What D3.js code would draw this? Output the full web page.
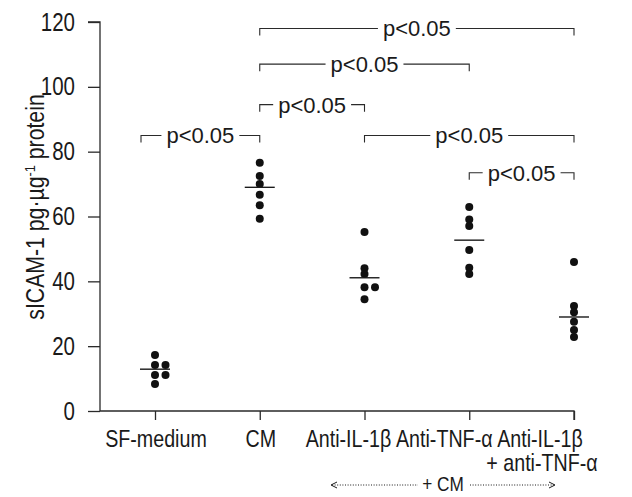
<!DOCTYPE html>
<html><head><meta charset="utf-8">
<script src="https://cdn.jsdelivr.net/npm/d3@7"></script>
<style>body{margin:0;background:#fff} svg{display:block}</style>
</head><body><svg id="c" width="632" height="497"></svg>
<script>
// ---- data ----
const categories = ["SF-medium", "CM", "Anti-IL-1β", "Anti-TNF-α", "Anti-IL-1β|+ anti-TNF-α"];
const sfMedium = [17.3, 14.2, 14.2, 11.1, 11.1, 8.3];
const cmValues = [76.6, 72.5, 70.0, 66.7, 63.5, 59.3];
const antiIL1b = [55.2, 44.0, 42.3, 38.2, 38.2, 34.5];
const antiTNFa = [62.9, 59.1, 57.1, 49.7, 44.2, 42.3];
const antiBoth = [46.0, 32.4, 30.5, 27.5, 25.0, 22.8];
const groupLines = [12.9, 69.0, 41.1, 52.7, 29.0];
const yTicks = [0, 20, 40, 60, 80, 100, 120];
const bracketFrom = [1, 1, 1, 0, 2, 3];
const bracketTo = [4, 3, 2, 1, 4, 4];
const bracketLevel = [118, 107, 94.5, 85, 85, 73.5];
const pLabel = "p<0.05";
const groupNote = "+ CM";
const yTitle = ["sICAM-1  pg·µg", "-1", " protein"];

const series = [sfMedium, cmValues, antiIL1b, antiTNFa, antiBoth];

// ---- layout ----
const svg = d3.select("#c");
const ink = "#1a1a1a", lineInk = "#2a2a2a";
const font = "'Liberation Sans',Arial,Helvetica,sans-serif";
const squeeze = 0.82; // condensed lettering

const x = d3.scalePoint().domain(d3.range(categories.length)).range([155, 574]);
const y = d3.scaleLinear().domain([0, 120]).range([411, 22]);
const axisLeftX = 100;

// y axis
const yAxis = d3.axisLeft(y).tickValues(yTicks).tickSize(12).tickPadding(12).tickFormat(d3.format("d"));
const gy = svg.append("g").attr("transform", `translate(${axisLeftX},0)`).call(yAxis);
gy.select(".domain").attr("d", `M-12,${y(120)}H0V${y(0)}`).attr("stroke", lineInk).attr("stroke-width", 1.3);
gy.selectAll(".tick line").attr("stroke", lineInk).attr("stroke-width", 1.3);
gy.selectAll(".tick text").attr("font-family", font).attr("font-size", 25).attr("fill", ink)
  .attr("x", 0).attr("transform", `translate(-25,0) scale(${squeeze},1)`);

// x axis
const xAxis = d3.axisBottom(x).tickSize(9).tickFormat("");
const gx = svg.append("g").attr("transform", `translate(0,${y(0)})`).call(xAxis);
gx.select(".domain").attr("d", `M${axisLeftX},0H${x(4)}V9`).attr("stroke", lineInk).attr("stroke-width", 1.3);
gx.selectAll(".tick line").attr("stroke", lineInk).attr("stroke-width", 1.3);

// category labels
const labelShift = [1, 1, -16, -25, -34];
categories.forEach((c, i) => {
  c.split("|").forEach((line, k) => {
    svg.append("text")
      .attr("transform", `translate(${x(i) + labelShift[i] + (k ? 2 : 0)},${447 + k * 24}) scale(${squeeze},1)`)
      .attr("font-family", font).attr("font-size", 24).attr("fill", ink)
      .attr("text-anchor", "middle").text(line);
  });
});

// "+ CM" with dotted arrows
const noteY = 491;
svg.append("text").attr("transform", `translate(443,${noteY}) scale(${squeeze},1)`).attr("text-anchor", "middle")
  .attr("font-family", font).attr("font-size", 21).attr("fill", ink).text(groupNote);
const arrowY = noteY - 6;
svg.append("line").attr("x1", 332).attr("x2", 418).attr("y1", arrowY).attr("y2", arrowY)
  .attr("stroke", ink).attr("stroke-width", 1).attr("stroke-dasharray", "1,1.6");
svg.append("line").attr("x1", 470).attr("x2", 554).attr("y1", arrowY).attr("y2", arrowY)
  .attr("stroke", ink).attr("stroke-width", 1).attr("stroke-dasharray", "1,1.6");
svg.append("path").attr("d", `M337,${arrowY - 3}L331,${arrowY}L337,${arrowY + 3}`).attr("fill", "none").attr("stroke", ink).attr("stroke-width", 1);
svg.append("path").attr("d", `M549,${arrowY - 3}L555,${arrowY}L549,${arrowY + 3}`).attr("fill", "none").attr("stroke", ink).attr("stroke-width", 1);

// y title
const yt = svg.append("text").attr("transform", "translate(44,207) rotate(-90) scale(0.85,1)")
  .attr("text-anchor", "middle").attr("font-family", font).attr("font-size", 25).attr("fill", ink);
yt.append("tspan").text(yTitle[0]);
yt.append("tspan").attr("font-size", 15).attr("dy", -9).text(yTitle[1]);
yt.append("tspan").attr("dy", 9).text(yTitle[2]);

// dots
const sideStep = 10.5;
series.forEach((vals, i) => {
  const pts = vals.map((v, k) => ({ v, dx: (k > 0 && vals[k - 1] === v) ? sideStep : 0 }));
  svg.append("g").selectAll("circle").data(pts).join("circle")
    .attr("cx", d => x(i) + d.dx).attr("cy", d => y(d.v)).attr("r", 4).attr("fill", "#111");
});

// mean lines
svg.append("g").selectAll("line").data(groupLines).join("line")
  .attr("x1", (d, i) => x(i) - 15).attr("x2", (d, i) => x(i) + 15)
  .attr("y1", d => y(d)).attr("y2", d => y(d))
  .attr("stroke", ink).attr("stroke-width", 1.4);

// significance brackets
const gap = 5, drop = 7;
bracketLevel.forEach((lv, b) => {
  const x1 = x(bracketFrom[b]) + (bracketFrom[b] === 0 ? -14 : 0);
  const x2 = x(bracketTo[b]);
  const yy = y(lv);
  const cx = (x1 + x2) / 2;
  const t = svg.append("text").attr("x", cx).attr("y", yy + 8).attr("text-anchor", "middle")
    .attr("font-family", font).attr("font-size", 22).attr("fill", ink).text(pLabel);
  const w = t.node().getComputedTextLength();
  svg.append("path")
    .attr("d", `M${x1},${yy + drop}V${yy}H${cx - w / 2 - gap}M${cx + w / 2 + gap},${yy}H${x2}V${yy + drop}`)
    .attr("fill", "none").attr("stroke", lineInk).attr("stroke-width", 1.1);
});
</script></body></html>
